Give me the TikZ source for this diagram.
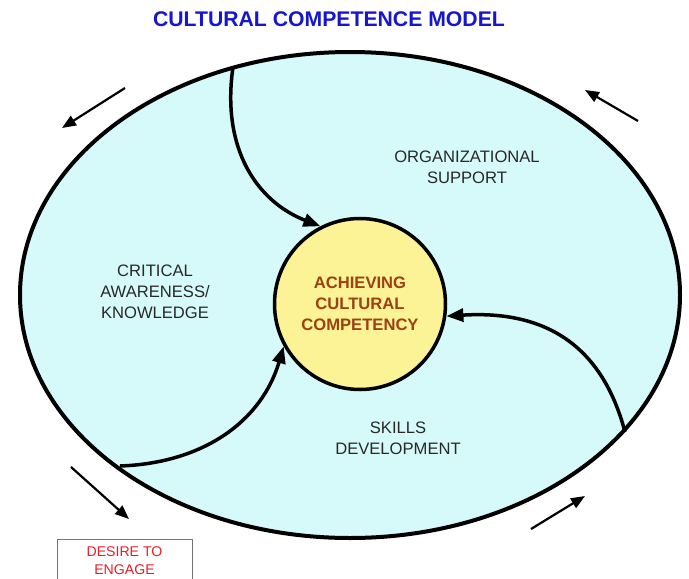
\documentclass[tikz,border=0pt]{standalone}
\usepackage{fontspec}
\setmainfont{Liberation Sans}
\usetikzlibrary{arrows.meta,shapes.geometric}

\definecolor{fieldfill}{RGB}{214,250,250}
\definecolor{hubfill}{RGB}{252,243,150}
\definecolor{titleblue}{RGB}{22,22,205}
\definecolor{hubtext}{RGB}{155,65,20}
\definecolor{desirered}{RGB}{228,30,40}
\definecolor{labelgray}{RGB}{40,40,40}

\tikzset{
	flow/.style={line width=3.5pt, -{Triangle[length=17pt,width=13pt]}},
	cycle/.style={line width=2.2pt, -{Triangle[length=14pt,width=11pt]}},
	area/.style={text=labelgray, align=center, font=\fontsize{16.6}{21}\selectfont},
}

\begin{document}
\begin{tikzpicture}[x=1pt, y=-1pt]
			%%%%% START %%%%%
			
			\useasboundingbox (0, 0) rectangle (689, 579);
			
			\node[font=\bfseries\fontsize{21.2}{25}\selectfont, text=titleblue] (title) at (329, 19) {CULTURAL COMPETENCE MODEL};
			
			\node[ellipse, draw, line width=4pt, fill=fieldfill, minimum width=660, minimum height=486, inner sep=0] (field) at (350, 295) {};
			
			\node[circle, draw, line width=3.5pt, fill=hubfill, minimum size=171, inner sep=0, text=hubtext, align=center, font=\bfseries\fontsize{16.6}{21}\selectfont] (hub) at (360, 304) {ACHIEVING\\CULTURAL\\COMPETENCY};
			
			\node[area] (org) at (467, 167) {ORGANIZATIONAL\\SUPPORT};
			\node[area] (aware) at (155, 292) {CRITICAL\\AWARENESS/\\KNOWLEDGE};
			\node[area] (skills) at (398, 438) {SKILLS\\DEVELOPMENT};
			
			\coordinate (orgstart) at (233, 67);
			\coordinate (awarestart) at (120, 466);
			\coordinate (skillstart) at (625, 432);
			
			\draw[flow] (orgstart) .. controls (221, 150) and (258, 202) .. (hub.117);
			\draw[flow] (awarestart) .. controls (205, 463) and (262, 420) .. (hub.209);
			\draw[flow] (skillstart) .. controls (602, 345) and (545, 310) .. (hub.352);
			
			\coordinate (tlfrom) at (125, 88);
			\coordinate (tlto) at (62, 128);
			\coordinate (trfrom) at (638, 121);
			\coordinate (trto) at (585, 90);
			\coordinate (blfrom) at (71, 467);
			\coordinate (blto) at (129, 519);
			\coordinate (brfrom) at (531, 529);
			\coordinate (brto) at (585, 496);
			
			\draw[cycle] (tlfrom) -- (tlto);
			\draw[cycle] (trfrom) -- (trto);
			\draw[cycle] (blfrom) -- (blto);
			\draw[cycle] (brfrom) -- (brto);
			
			\node[draw=black!55, line width=1pt, minimum width=135, minimum height=42, anchor=north, text=desirered, align=center, font=\fontsize{14.1}{18}\selectfont] (desire) at (124.5, 539) {DESIRE TO\\ENGAGE};
			
			%%%%% END %%%%%
		\end{tikzpicture}
\end{document}
